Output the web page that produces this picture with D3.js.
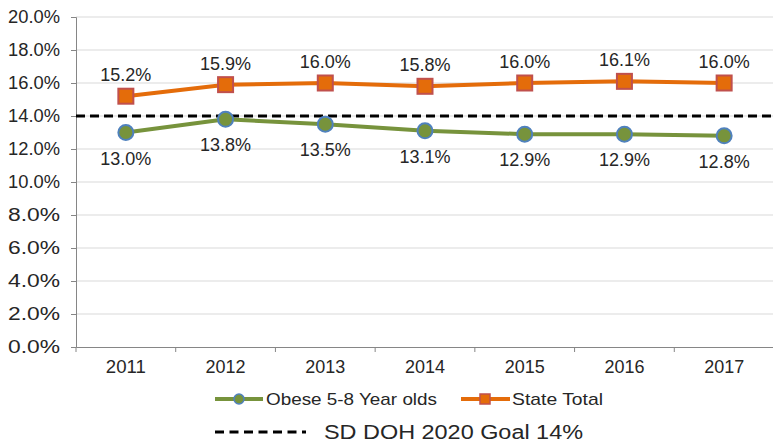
<!DOCTYPE html>
<html><head><meta charset="utf-8">
<script src="https://cdn.jsdelivr.net/npm/d3@7"></script>
<style>body{margin:0;background:#fff;} svg{display:block;} text{font-family:"Liberation Sans",Arial,sans-serif;fill:#262626;}</style>
</head><body><svg id="c" width="773" height="443"></svg>
<script>
const years = ["2011","2012","2013","2014","2015","2016","2017"];
const obese = [13.0,13.8,13.5,13.1,12.9,12.9,12.8];
const stateTotal = [15.2,15.9,16.0,15.8,16.0,16.1,16.0];
const goal = 14;
const yTicks = [0,2,4,6,8,10,12,14,16,18,20];
const seriesNames = ["Obese 5-8 Year olds","State Total"];
const goalLabel = "SD DOH 2020 Goal 14%";

const svg = d3.select("#c");
const L=76, R=774, T=17, B=347;
const x = d3.scaleBand().domain(years).range([L,R]);
const y = d3.scaleLinear().domain([0,20]).range([B,T]);
const fmt = v => v.toFixed(1)+"%";

// gridlines
svg.append("g").selectAll("line").data(yTicks.filter(v=>v>0)).join("line")
  .attr("x1",L).attr("x2",R).attr("y1",d=>y(d)).attr("y2",d=>y(d))
  .attr("stroke","#d9d9d9").attr("stroke-width",1);

// y axis
const ya = svg.append("g").attr("transform",`translate(${L},0)`)
  .call(d3.axisLeft(y).tickValues(yTicks).tickFormat(fmt).tickSize(5).tickPadding(11));
ya.attr("font-size",null).attr("font-family",null);
ya.select(".domain").attr("stroke","#868686");
ya.selectAll(".tick line").attr("stroke","#868686");
ya.selectAll("text").style("font-size","18px").attr("fill","#262626").attr("textLength",52).attr("lengthAdjust","spacingAndGlyphs");

// x axis
const xa = svg.append("g").attr("transform",`translate(0,${B})`)
  .call(d3.axisBottom(x).tickSize(0).tickPadding(13));
xa.attr("font-size",null).attr("font-family",null);
xa.select(".domain").attr("stroke","#868686");
xa.selectAll("text").style("font-size","18px").attr("fill","#262626").attr("textLength",40).attr("lengthAdjust","spacingAndGlyphs");
xa.append("g").selectAll("line").data(years).join("line")
  .attr("x1",(d,i)=>L+x.step()*i).attr("x2",(d,i)=>L+x.step()*i)
  .attr("y1",0).attr("y2",5).attr("stroke","#868686");

const cx = d => x(d)+x.bandwidth()/2;

// goal line
svg.append("line").attr("x1",L).attr("x2",R).attr("y1",y(goal)).attr("y2",y(goal))
  .attr("stroke","#000").attr("stroke-width",3).attr("stroke-dasharray","9,5");

const line = d3.line().x((d,i)=>cx(years[i])).y(d=>y(d));

// obese series
svg.append("path").datum(obese).attr("d",line).attr("fill","none")
  .attr("stroke","#77933c").attr("stroke-width",4);
svg.append("g").selectAll("circle").data(obese).join("circle")
  .attr("cx",(d,i)=>cx(years[i])).attr("cy",d=>y(d)).attr("r",7.5)
  .attr("fill","#77933c").attr("stroke","#4f81bd").attr("stroke-width",2);
svg.append("g").selectAll("text").data(obese).join("text")
  .attr("x",(d,i)=>cx(years[i])).attr("y",d=>y(d)+32).attr("text-anchor","middle")
  .style("font-size","18px").text(fmt);

// state total series
svg.append("path").datum(stateTotal).attr("d",line).attr("fill","none")
  .attr("stroke","#e46c0a").attr("stroke-width",4);
svg.append("g").selectAll("rect").data(stateTotal).join("rect")
  .attr("x",(d,i)=>cx(years[i])-7.5).attr("y",d=>y(d)-7.5).attr("width",15).attr("height",15)
  .attr("fill","#e46c0a").attr("stroke","#c0504d").attr("stroke-width",2);
svg.append("g").selectAll("text").data(stateTotal).join("text")
  .attr("x",(d,i)=>cx(years[i])).attr("y",d=>y(d)-15).attr("text-anchor","middle")
  .style("font-size","18px").text(fmt);

// legend
const lg = svg.append("g");
const ly = 399;
lg.append("line").attr("x1",215).attr("x2",263).attr("y1",ly).attr("y2",ly).attr("stroke","#77933c").attr("stroke-width",4);
lg.append("circle").attr("cx",239).attr("cy",ly).attr("r",5).attr("fill","#77933c").attr("stroke","#4f81bd").attr("stroke-width",1.5);
lg.append("text").attr("x",266).attr("y",ly+6).style("font-size","17px").attr("textLength",171).attr("lengthAdjust","spacingAndGlyphs").text(seriesNames[0]);
lg.append("line").attr("x1",461).attr("x2",510).attr("y1",ly).attr("y2",ly).attr("stroke","#e46c0a").attr("stroke-width",4);
lg.append("rect").attr("x",480).attr("y",ly-5).attr("width",10).attr("height",10).attr("fill","#e46c0a").attr("stroke","#c0504d").attr("stroke-width",1.5);
lg.append("text").attr("x",512).attr("y",ly+6).style("font-size","17px").attr("textLength",91).attr("lengthAdjust","spacingAndGlyphs").text(seriesNames[1]);

lg.append("line").attr("x1",215).attr("x2",306).attr("y1",432).attr("y2",432).attr("stroke","#000").attr("stroke-width",3).attr("stroke-dasharray","9,5.5");
lg.append("text").attr("x",324).attr("y",439).style("font-size","20px").attr("textLength",259).attr("lengthAdjust","spacingAndGlyphs").text(goalLabel);
</script></body></html>
